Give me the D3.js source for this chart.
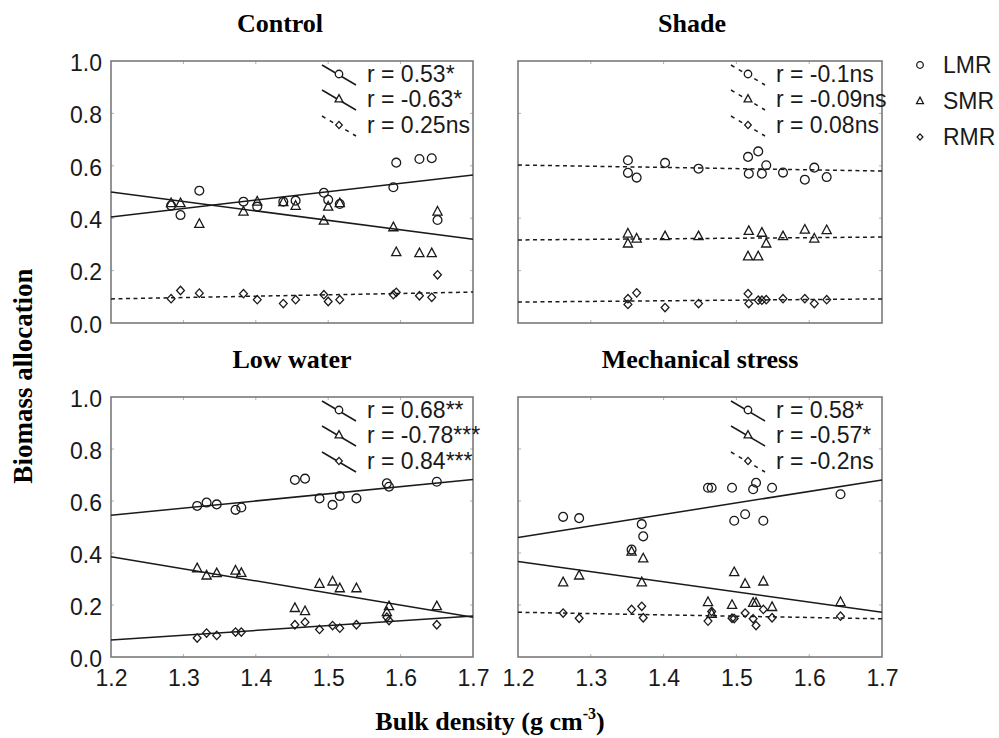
<!DOCTYPE html>
<html><head><meta charset="utf-8">
<script src="https://cdn.jsdelivr.net/npm/d3@7"></script>
<style>body{margin:0;background:#fff}</style>
</head><body>
<svg id="c" width="999" height="738"></svg>
<script>
// ---------- data ----------
const panelTitles = ["Control", "Shade", "Low water", "Mechanical stress"];
const seriesNames = ["LMR", "SMR", "RMR"];
const xTicks = [1.2, 1.3, 1.4, 1.5, 1.6, 1.7];
const yTicks = [0.0, 0.2, 0.4, 0.6, 0.8, 1.0];

const controlX   = [1.283,1.296,1.322,1.383,1.402,1.438,1.455,1.494,1.500,1.516,1.590,1.594,1.626,1.643,1.651];
const controlLMR = [0.448,0.412,0.505,0.463,0.444,0.463,0.467,0.497,0.470,0.454,0.518,0.612,0.626,0.629,0.393];
const controlSMR = [0.457,0.457,0.378,0.425,0.463,0.461,0.447,0.390,0.444,0.457,0.365,0.270,0.266,0.266,0.425];
const controlRMR = [0.093,0.124,0.114,0.112,0.089,0.074,0.089,0.108,0.082,0.089,0.108,0.117,0.104,0.098,0.184];

const shadeX   = [1.351,1.351,1.363,1.402,1.448,1.516,1.517,1.530,1.535,1.541,1.564,1.594,1.607,1.624];
const shadeLMR = [0.621,0.573,0.555,0.611,0.589,0.634,0.570,0.655,0.570,0.602,0.574,0.547,0.593,0.557];
const shadeSMR = [0.303,0.341,0.322,0.331,0.331,0.254,0.351,0.254,0.344,0.303,0.331,0.356,0.322,0.354];
const shadeRMR = [0.071,0.093,0.115,0.059,0.074,0.112,0.074,0.087,0.087,0.089,0.093,0.093,0.074,0.089];

const lowWaterX   = [1.319,1.332,1.346,1.372,1.380,1.454,1.468,1.488,1.506,1.516,1.539,1.581,1.584,1.650];
const lowWaterLMR = [0.581,0.594,0.587,0.566,0.575,0.681,0.686,0.610,0.585,0.619,0.610,0.668,0.655,0.674];
const lowWaterSMR = [0.341,0.313,0.322,0.332,0.323,0.188,0.176,0.281,0.290,0.264,0.264,0.172,0.195,0.195];
const lowWaterRMR = [0.073,0.092,0.083,0.096,0.096,0.124,0.134,0.106,0.121,0.111,0.124,0.153,0.140,0.124];

const mechX   = [1.262,1.284,1.356,1.370,1.372,1.461,1.466,1.494,1.497,1.512,1.523,1.527,1.537,1.549,1.643];
const mechLMR = [0.539,0.534,0.413,0.511,0.464,0.651,0.651,0.651,0.524,0.549,0.645,0.670,0.524,0.651,0.626];
const mechSMR = [0.287,0.313,0.405,0.287,0.379,0.211,0.166,0.200,0.326,0.281,0.208,0.208,0.290,0.192,0.211];
const mechRMR = [0.169,0.149,0.183,0.195,0.151,0.138,0.175,0.149,0.148,0.169,0.147,0.121,0.183,0.151,0.157];

// fitted lines: values at x = 1.2 and x = 1.7  [LMR, SMR, RMR]
const controlFit  = [[0.405,0.565],[0.500,0.320],[0.092,0.118]];
const shadeFit    = [[0.603,0.580],[0.317,0.328],[0.080,0.092]];
const lowWaterFit = [[0.545,0.683],[0.386,0.153],[0.065,0.158]];
const mechFit     = [[0.460,0.681],[0.367,0.172],[0.172,0.147]];

const controlR  = ["r = 0.53*", "r = -0.63*", "r = 0.25ns"];
const shadeR    = ["r = -0.1ns", "r = -0.09ns", "r = 0.08ns"];
const lowWaterR = ["r = 0.68**", "r = -0.78***", "r = 0.84***"];
const mechR     = ["r = 0.58*", "r = -0.57*", "r = -0.2ns"];

// ---------- build ----------
const panels = [
  {title: panelTitles[0], x: controlX, ys: [controlLMR, controlSMR, controlRMR], fit: controlFit, r: controlR, col: 0, row: 0, tdx: -12},
  {title: panelTitles[1], x: shadeX, ys: [shadeLMR, shadeSMR, shadeRMR], fit: shadeFit, r: shadeR, col: 1, row: 0, tdx: -8},
  {title: panelTitles[2], x: lowWaterX, ys: [lowWaterLMR, lowWaterSMR, lowWaterRMR], fit: lowWaterFit, r: lowWaterR, col: 0, row: 1, tdx: 0},
  {title: panelTitles[3], x: mechX, ys: [mechLMR, mechSMR, mechRMR], fit: mechFit, r: mechR, col: 1, row: 1, tdx: 0}
];

const svg = d3.select("#c");
const colRanges = [[111, 473], [518, 882]];
const rowRanges = [[323, 61], [657, 397]];
const SANS = "'Liberation Sans', Arial, sans-serif";
const SERIF = "'Liberation Serif', 'Times New Roman', serif";
const INK = "#1a1a1a";

function markerPath(i, s) {
  s = s || 1;
  if (i === 0) { const r = 4.4 * s; return `M${r},0A${r},${r} 0 1,1 ${-r},0A${r},${r} 0 1,1 ${r},0Z`; }
  if (i === 1) return `M0,${-5.2*s}L${4.6*s},${3.4*s}L${-4.6*s},${3.4*s}Z`;
  return `M0,${-4.2*s}L${3.9*s},0L0,${4.2*s}L${-3.9*s},0Z`;
}

panels.forEach(p => {
  const xs = d3.scaleLinear().domain([1.2, 1.7]).range(colRanges[p.col]);
  const ys = d3.scaleLinear().domain([0, 1]).range(rowRanges[p.row]);
  const g = svg.append("g");
  const [x0, x1] = xs.range(), [y0, y1] = ys.range();

  // inner ticks
  const tk = g.append("g").attr("stroke", "#b0b0b0").attr("stroke-width", 1);
  xTicks.slice(1, -1).forEach(t => {
    tk.append("line").attr("x1", xs(t)).attr("x2", xs(t)).attr("y1", y1).attr("y2", y1 + 3);
    tk.append("line").attr("x1", xs(t)).attr("x2", xs(t)).attr("y1", y0).attr("y2", y0 - 3);
  });
  yTicks.slice(1, -1).forEach(t => {
    tk.append("line").attr("x1", x0).attr("x2", x0 + 3).attr("y1", ys(t)).attr("y2", ys(t));
    tk.append("line").attr("x1", x1).attr("x2", x1 - 3).attr("y1", ys(t)).attr("y2", ys(t));
  });

  // frame
  g.append("rect").attr("x", x0).attr("y", y1).attr("width", x1 - x0).attr("height", y0 - y1)
    .attr("fill", "none").attr("stroke", "#7a7a7a").attr("stroke-width", 1.6);

  // tick labels
  if (p.col === 0) {
    const ya = d3.axisLeft(ys).tickValues(yTicks).tickFormat(d3.format(".1f")).tickSize(0).tickPadding(8);
    const ga = g.append("g").attr("transform", `translate(${x0 - 1},0)`).call(ya);
    ga.select(".domain").remove();
    ga.selectAll("text").attr("font-family", SANS).attr("font-size", 23).attr("fill", INK).attr("dy", "0.4em");
  }
  if (p.row === 1) {
    const xa = d3.axisBottom(xs).tickValues(xTicks).tickFormat(d3.format(".1f")).tickSize(0).tickPadding(13);
    const ga = g.append("g").attr("transform", `translate(0,${y0})`).call(xa);
    ga.select(".domain").remove();
    ga.selectAll("text").attr("font-family", SANS).attr("font-size", 23).attr("fill", INK);
  }

  // fitted lines
  const line = d3.line().x(d => xs(d[0])).y(d => ys(d[1]));
  p.fit.forEach((f, i) => {
    const dashed = p.r[i].endsWith("ns");
    g.append("path").datum([[1.2, f[0]], [1.7, f[1]]]).attr("d", line)
      .attr("fill", "none").attr("stroke", INK).attr("stroke-width", 1.5)
      .attr("stroke-dasharray", dashed ? "4,3.5" : null);
  });

  // points
  p.ys.forEach((arr, i) => {
    g.append("g").selectAll("path").data(arr.map((v, k) => [p.x[k], v])).join("path")
      .attr("transform", d => `translate(${xs(d[0])},${ys(d[1])})`)
      .attr("d", markerPath(i)).attr("fill", "none").attr("stroke", INK).attr("stroke-width", 1.3);
  });

  // in-panel legend
  const offs = [13, 38, 64];
  p.r.forEach((txt, i) => {
    const cy = y1 + offs[i];
    const mx = x1 - 134;
    const dashed = txt.endsWith("ns");
    g.append("line").attr("x1", mx - 17).attr("y1", cy - 9).attr("x2", mx + 17).attr("y2", cy + 11)
      .attr("stroke", INK).attr("stroke-width", 1.5).attr("stroke-dasharray", dashed ? "4,5" : null);
    g.append("path").attr("transform", `translate(${mx},${cy})`).attr("d", markerPath(i, 0.85))
      .attr("fill", "#fff").attr("stroke", INK).attr("stroke-width", 1.3);
    g.append("text").attr("x", x1 - 106).attr("y", cy).attr("dy", "0.36em")
      .attr("font-family", SANS).attr("font-size", 23).attr("fill", INK).text(txt);
  });

  // title
  g.append("text").attr("x", (x0 + x1) / 2 + p.tdx).attr("y", y1 - 29).attr("text-anchor", "middle")
    .attr("font-family", SERIF).attr("font-weight", "bold").attr("font-size", 26).attr("fill", "#000").text(p.title);
});

// series legend
seriesNames.forEach((s, i) => {
  const cy = 65 + i * 36;
  svg.append("path").attr("transform", `translate(920,${cy})`).attr("d", markerPath(i, 0.75))
    .attr("fill", "none").attr("stroke", INK).attr("stroke-width", 1.3);
  svg.append("text").attr("x", 943).attr("y", cy).attr("dy", "0.36em")
    .attr("font-family", SANS).attr("font-size", 23).attr("fill", INK).text(s);
});

// axis titles
svg.append("text").attr("transform", "translate(32,376) rotate(-90)").attr("text-anchor", "middle")
  .attr("font-family", SERIF).attr("font-weight", "bold").attr("font-size", 27).text("Biomass allocation");
const xt = svg.append("text").attr("x", 490).attr("y", 730).attr("text-anchor", "middle")
  .attr("font-family", SERIF).attr("font-weight", "bold").attr("font-size", 26);
xt.append("tspan").text("Bulk density (g cm");
xt.append("tspan").attr("font-size", 16).attr("dy", -11).text("-3");
xt.append("tspan").attr("dy", 11).text(")");
</script>
</body></html>
